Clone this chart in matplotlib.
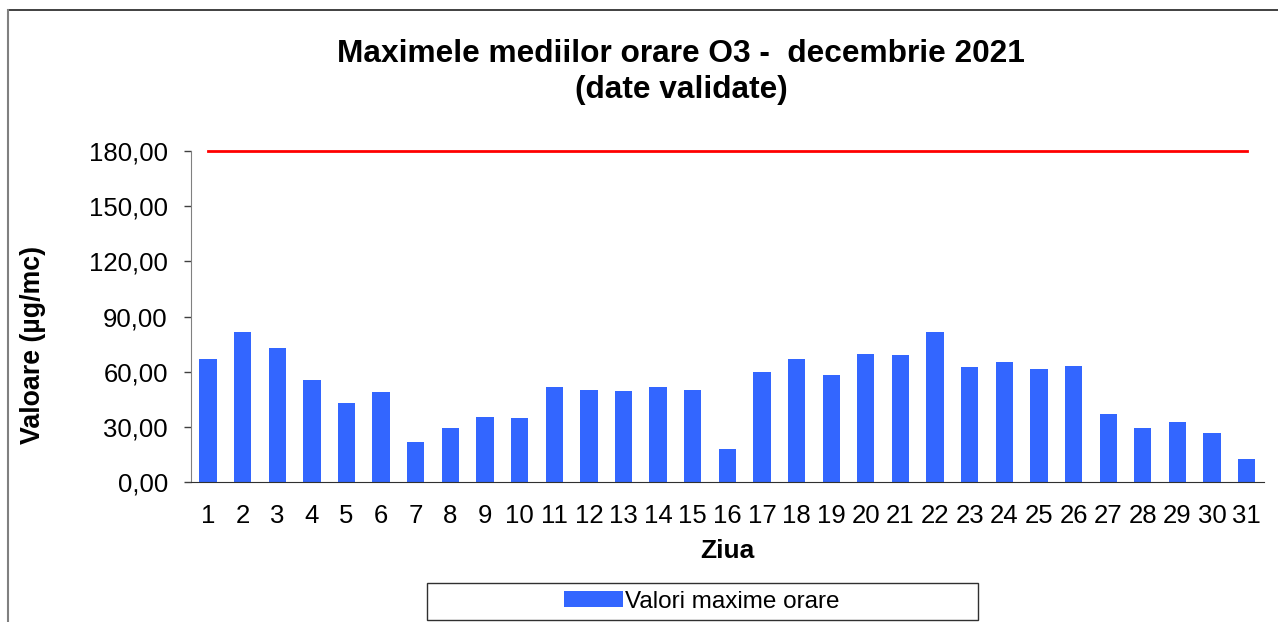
import numpy as np
import matplotlib
matplotlib.use("Agg")
import matplotlib.pyplot as plt
from matplotlib.lines import Line2D
from matplotlib.patches import Rectangle
from matplotlib.ticker import FuncFormatter

plt.rcParams['font.family'] = ['Liberation Sans', 'DejaVu Sans']

# data
zile = list(range(1, 32))
valori = [66.7, 81.7, 72.7, 55.2, 42.7, 48.9, 21.8, 29.2, 35.2, 34.9,
          51.4, 50.3, 49.4, 51.6, 49.8, 18.2, 59.7, 67.0, 58.0, 69.7,
          68.8, 81.7, 62.6, 65.0, 61.2, 63.0, 37.0, 29.6, 32.9, 26.7, 12.7]
prag = 180
yticks = [0, 30, 60, 90, 120, 150, 180]

W, H = 1278, 622
fig = plt.figure(figsize=(W / 100, H / 100), dpi=100)

# outer chart frame (top black, left gray, cut off on right/bottom)
fig.lines.append(Line2D([8 / W, 1.0], [1 - 9.5 / H, 1 - 9.5 / H], transform=fig.transFigure,
                        color='#202020', linewidth=1.2))
fig.lines.append(Line2D([8 / W, 8 / W], [0, 1 - 9.5 / H], transform=fig.transFigure,
                        color='#808080', linewidth=1.5))

ax = fig.add_axes([190.7 / W, 1 - 482 / H, (1264 - 190.7) / W, (482 - 151) / H])

x = np.arange(len(zile))
bars = ax.bar(x, valori, width=0.5, color='#3366FF', label='Valori maxime orare')
ax.plot([x[0], x[-1]], [prag, prag], color='#FF0000', linewidth=2, clip_on=False)

ax.set_xlim(-0.5, len(zile) - 0.5)
ax.set_ylim(0, 180)
ax.set_yticks(yticks)
ax.yaxis.set_major_formatter(FuncFormatter(lambda v, p: f"{v:.2f}".replace('.', ',')))
ax.set_xticks(x)
ax.set_xticklabels([str(z) for z in zile])

for s in ['top', 'right']:
    ax.spines[s].set_visible(False)
ax.spines['left'].set_color('#808080')
ax.spines['bottom'].set_color('#303030')
ax.tick_params(axis='y', length=5, width=1, color='#404040', pad=11.5, labelsize=18.5)
ax.tick_params(axis='x', length=0, pad=15.5, labelsize=18.5)

ax.set_xlabel('Ziua', fontsize=19, fontweight='bold', labelpad=8)
fig.text(33 / W, 1 - 345 / H, 'Valoare (µg/mc)', rotation=90, fontsize=19.3,
         fontweight='bold', ha='center', va='center')

fig.text(681 / W, 1 - 54 / H, 'Maximele mediilor orare O3 -  decembrie 2021',
         fontsize=22.8, fontweight='bold', ha='center', va='center')
fig.text(681 / W, 1 - 90 / H, '(date validate)',
         fontsize=22.8, fontweight='bold', ha='center', va='center')

# legend box
fig.patches.append(Rectangle((427 / W, 1 - 620 / H), (978 - 427) / W, (620 - 583) / H,
                             transform=fig.transFigure, fill=False,
                             edgecolor='#303030', linewidth=1))
fig.legend(handles=[bars], labels=['Valori maxime orare'], loc='center',
           bbox_to_anchor=(702 / W, 1 - 601.5 / H), frameon=False, fontsize=17.5,
           handlelength=2.4, handleheight=0.6, handletextpad=0.1)

fig.savefig('out.png', dpi=100)
